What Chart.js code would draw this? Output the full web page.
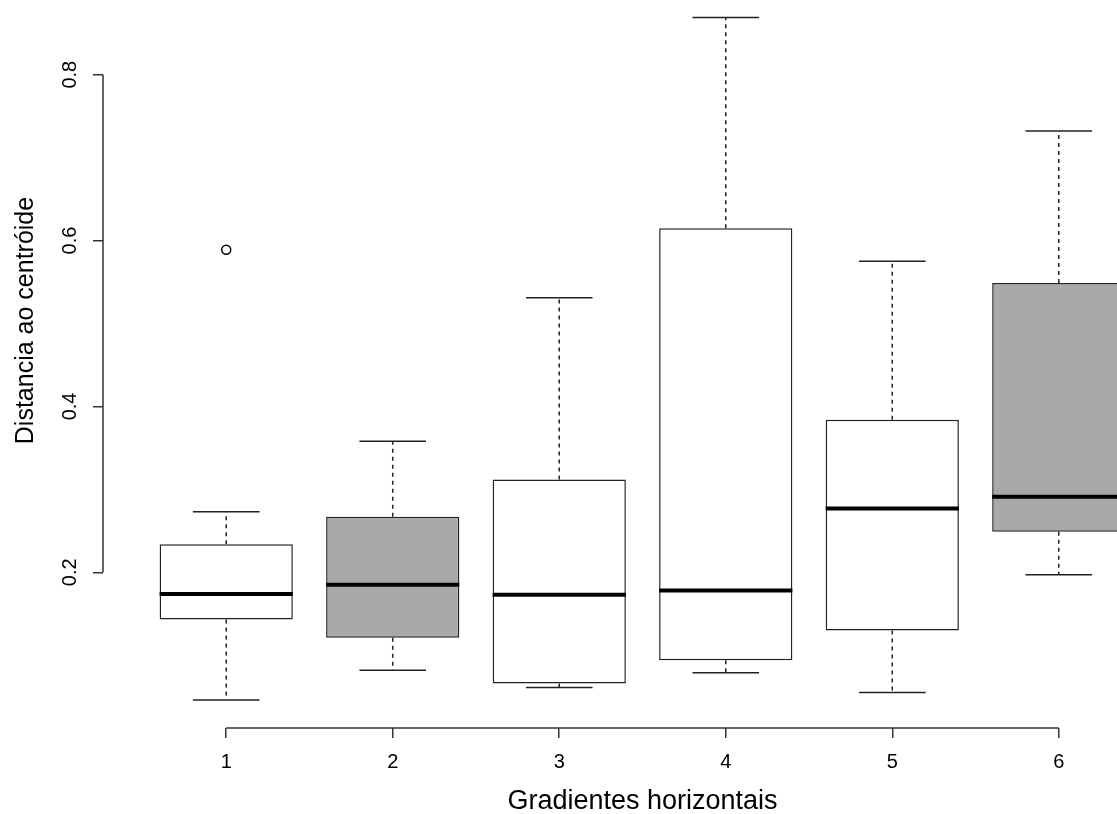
<!DOCTYPE html>
<html>
<head>
<meta charset="utf-8">
<script src="https://cdn.jsdelivr.net/npm/chart.js@4/dist/chart.umd.min.js"></script>
<style>
  body { margin: 0; overflow: hidden; background: #fff; width: 1117px; height: 814px; position: relative; }
  #grafico { position: absolute; left: 0; top: -87px; }
</style>
</head>
<body>
<canvas id="grafico" width="1200" height="910"></canvas>
<script>
// Gradientes (eixo x) e estatisticas de cada caixa
const gradientes = [1, 2, 3, 4, 5, 6];
const bigodeInf = [0.046, 0.082, 0.061, 0.079, 0.055, 0.197];
const quartil1  = [0.143, 0.121, 0.066, 0.094, 0.130, 0.249];
const mediana   = [0.174, 0.185, 0.173, 0.178, 0.277, 0.291];
const quartil3  = [0.234, 0.267, 0.312, 0.615, 0.384, 0.549];
const bigodeSup = [0.273, 0.358, 0.531, 0.869, 0.575, 0.732];
const corCaixa  = ['#FFFFFF', '#A9A9A9', '#FFFFFF', '#FFFFFF', '#FFFFFF', '#A9A9A9'];

// pontos fora dos bigodes
const outliersX = [1];
const outliersY = [0.589];

const ticksX = [1, 2, 3, 4, 5, 6];
const ticksY = [0.2, 0.4, 0.6, 0.8];

const fonte = "'Liberation Sans', Arial, sans-serif";
const corLinha = '#222';

// bigodes tracejados, grampos e medianas
const linhasBoxplot = {
    id: 'linhasBoxplot',
    afterDatasetsDraw(chart) {
        const ctx = chart.ctx;
        const y = chart.scales.y;
        const barras = chart.getDatasetMeta(0).data;
        ctx.save();
        ctx.strokeStyle = corLinha;
        barras.forEach(function(barra, i) {
            const p = barra.getProps(['x', 'width'], true);
            const meia = p.width / 2;
            const grampo = meia / 2;

            // bigodes
            ctx.lineWidth = 1.5;
            ctx.setLineDash([4, 4]);
            ctx.beginPath();
            ctx.moveTo(p.x, y.getPixelForValue(quartil3[i]));
            ctx.lineTo(p.x, y.getPixelForValue(bigodeSup[i]));
            ctx.moveTo(p.x, y.getPixelForValue(quartil1[i]));
            ctx.lineTo(p.x, y.getPixelForValue(bigodeInf[i]));
            ctx.stroke();

            // grampos
            ctx.setLineDash([]);
            ctx.beginPath();
            ctx.moveTo(p.x - grampo, y.getPixelForValue(bigodeSup[i]));
            ctx.lineTo(p.x + grampo, y.getPixelForValue(bigodeSup[i]));
            ctx.moveTo(p.x - grampo, y.getPixelForValue(bigodeInf[i]));
            ctx.lineTo(p.x + grampo, y.getPixelForValue(bigodeInf[i]));
            ctx.stroke();

            // mediana
            ctx.lineWidth = 4;
            ctx.strokeStyle = '#000';
            ctx.beginPath();
            ctx.moveTo(p.x - meia, y.getPixelForValue(mediana[i]));
            ctx.lineTo(p.x + meia, y.getPixelForValue(mediana[i]));
            ctx.stroke();
            ctx.strokeStyle = corLinha;
        });

        // linhas dos eixos, so entre o primeiro e o ultimo tick (estilo R)
        const x = chart.scales.x;
        const area = chart.chartArea;
        ctx.lineWidth = 1.5;
        ctx.strokeStyle = '#333';
        ctx.beginPath();
        ctx.moveTo(x.getPixelForValue(ticksX[0]), area.bottom);
        ctx.lineTo(x.getPixelForValue(ticksX[ticksX.length - 1]), area.bottom);
        ctx.moveTo(area.left, y.getPixelForValue(ticksY[0]));
        ctx.lineTo(area.left, y.getPixelForValue(ticksY[ticksY.length - 1]));
        ctx.stroke();
        ctx.restore();
    }
};

const ctx = document.getElementById('grafico').getContext('2d');
const grafico = new Chart(ctx, {
    type: 'bar',
    data: {
        datasets: [{
            label: 'caixas',
            data: gradientes.map((g, i) => ({ x: g, y: [quartil1[i], quartil3[i]] })),
            backgroundColor: corCaixa,
            borderColor: corLinha,
            borderWidth: 1.5,
            borderSkipped: false,
            barPercentage: 0.8,
            categoryPercentage: 1
        }, {
            type: 'scatter',
            label: 'outliers',
            data: outliersX.map((v, i) => ({ x: v, y: outliersY[i] })),
            pointRadius: 4.5,
            pointBorderWidth: 1.5,
            pointBorderColor: '#000',
            pointBackgroundColor: 'rgba(0,0,0,0)'
        }]
    },
    options: {
        responsive: false,
        animation: false,
        layout: { autoPadding: false, padding: { left: 0, right: 18, top: 0, bottom: 0 } },
        plugins: {
            legend: { display: false },
            tooltip: { enabled: false }
        },
        scales: {
            x: {
                type: 'linear',
                min: 0.26,
                max: 6.74,
                offset: false,
                afterBuildTicks: s => { s.ticks = ticksX.map(v => ({ value: v })); },
                afterFit: s => { s.height = 95; s.paddingLeft = 0; s.paddingRight = 0; },
                grid: { offset: false, drawOnChartArea: false, drawTicks: true, tickLength: 10, color: '#333', lineWidth: 1.5 },
                border: { display: false },
                ticks: {
                    padding: 12,
                    color: '#000',
                    maxRotation: 0,
                    font: { family: fonte, size: 20 },
                    callback: v => String(v)
                },
                title: {
                    display: true,
                    text: 'Gradientes horizontais',
                    color: '#000',
                    font: { family: fonte, size: 27 },
                    padding: { top: 0, bottom: 5 }
                }
            },
            y: {
                min: 0.0123,
                max: 0.995,
                afterBuildTicks: s => { s.ticks = ticksY.map(v => ({ value: v })); },
                afterFit: s => { s.width = 103; s.paddingTop = 0; s.paddingBottom = 0; },
                grid: { drawOnChartArea: false, drawTicks: true, tickLength: 10, color: '#333', lineWidth: 1.5 },
                border: { display: false },
                ticks: {
                    padding: 9,
                    color: '#000',
                    minRotation: 90,
                    maxRotation: 90,
                    crossAlign: 'center',
                    font: { family: fonte, size: 20 },
                    callback: v => v.toFixed(1)
                },
                title: {
                    display: true,
                    text: 'Distancia ao centróide',
                    color: '#000',
                    font: { family: fonte, size: 25 },
                    padding: { top: 11, bottom: 0 }
                }
            }
        }
    },
    plugins: [linhasBoxplot]
});
</script>
</body>
</html>
